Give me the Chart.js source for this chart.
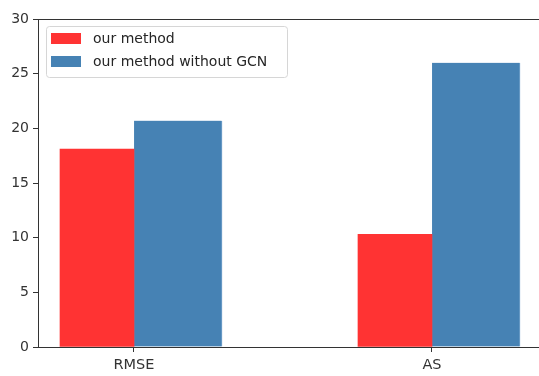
<!DOCTYPE html>
<html>
<head>
<meta charset="utf-8">
<script src="https://cdn.jsdelivr.net/npm/chart.js@4/dist/chart.umd.min.js"></script>
<style>
  html, body { margin: 0; padding: 0; background: #fff; overflow: hidden; }
  #wrap { width: 541px; height: 376px; }
</style>
</head>
<body>
<div id="wrap"><canvas id="chart"></canvas></div>
<script>
// data
const categories = ["RMSE", "AS"];
const seriesNames = ["our method", "our method without GCN"];
const ourMethod = [18.1, 10.3];
const withoutGCN = [20.7, 26.0];
const yTicks = [0, 5, 10, 15, 20, 25, 30];

const RED = "#ff3333";
const BLUE = "#4682b4";
const AXIS = "#333333";
const FONT = "DejaVu Sans";

// bar widths in axis units (red sits left of the tick, blue right of it)
const redW = 0.248;
const blueW = 0.296;

const ctx = document.getElementById("chart");

// top / right spine like matplotlib
const frame = {
  id: "frame",
  afterDraw(chart) {
    const a = chart.chartArea;
    const c = chart.ctx;
    c.save();
    c.strokeStyle = AXIS;
    c.lineWidth = 1;
    c.beginPath();
    c.moveTo(a.left, a.top + 0.5);
    c.lineTo(a.right, a.top + 0.5);
    c.lineTo(a.right - 0.5, a.bottom);
    c.stroke();
    c.restore();
  }
};

// legend drawn inside the plot, upper left
const innerLegend = {
  id: "innerLegend",
  afterDraw(chart) {
    const a = chart.chartArea;
    const c = chart.ctx;
    const x = a.left + 8, y = a.top + 7;
    const w = 241, h = 51;
    c.save();
    c.fillStyle = "rgba(255,255,255,0.8)";
    c.strokeStyle = "#d6d6d6";
    c.lineWidth = 1;
    c.beginPath();
    c.roundRect(x + 0.5, y + 0.5, w, h, 3);
    c.fill();
    c.stroke();
    c.font = "14px '" + FONT + "'";
    c.textBaseline = "middle";
    chart.data.datasets.forEach((ds, i) => {
      const ry = y + 7 + i * 23;
      c.fillStyle = ds.backgroundColor;
      c.fillRect(x + 5, ry, 30, 11);
      c.fillStyle = "#262626";
      c.fillText(ds.label, x + 47, ry + 6);
    });
    c.restore();
  }
};

new Chart(ctx, {
  type: "bar",
  data: {
    datasets: [
      {
        label: seriesNames[0],
        data: ourMethod.map((v, i) => ({ x: i - redW / 2, y: v })),
        backgroundColor: RED,
        barThickness: 74,
        grouped: false
      },
      {
        label: seriesNames[1],
        data: withoutGCN.map((v, i) => ({ x: i + blueW / 2, y: v })),
        backgroundColor: BLUE,
        borderColor: "#7aa6cf",
        borderWidth: { right: 1, top: 0, left: 0, bottom: 0 },
        barThickness: 88,
        grouped: false
      }
    ]
  },
  options: {
    responsive: true,
    maintainAspectRatio: false,
    animation: false,
    layout: { padding: { top: 19, right: 0, left: 0, bottom: 0 } },
    plugins: {
      legend: { display: false },
      tooltip: { enabled: false }
    },
    scales: {
      x: {
        type: "linear",
        min: -0.322,
        max: 1.366,
        offset: false,
        afterBuildTicks: (s) => { s.ticks = categories.map((c, i) => ({ value: i })); },
        afterFit: (s) => { s.height = 29; },
        ticks: {
          callback: (v) => categories[v],
          color: AXIS,
          padding: 5,
          maxRotation: 0,
          font: { family: FONT, size: 14.5 }
        },
        grid: { offset: false, drawOnChartArea: false, drawTicks: true, tickLength: 5, color: AXIS },
        border: { display: true, color: AXIS, width: 1 }
      },
      y: {
        min: 0,
        max: 30,
        afterBuildTicks: (s) => { s.ticks = yTicks.map((v) => ({ value: v })); },
        afterFit: (s) => { s.width = 38; },
        ticks: {
          color: AXIS,
          padding: 4,
          font: { family: FONT, size: 14 }
        },
        grid: { drawOnChartArea: false, drawTicks: true, tickLength: 5, color: AXIS },
        border: { display: true, color: AXIS, width: 1 }
      }
    }
  },
  plugins: [frame, innerLegend]
});
</script>
</body>
</html>
